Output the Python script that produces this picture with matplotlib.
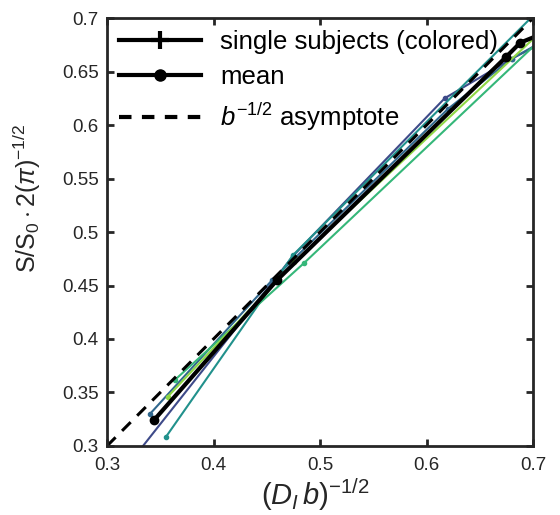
import numpy as np
import matplotlib.pyplot as plt
from matplotlib.lines import Line2D

plt.rcParams['font.family'] = ['Liberation Sans', 'DejaVu Sans']
plt.rcParams['mathtext.fontset'] = 'custom'
plt.rcParams['mathtext.rm'] = 'Liberation Sans'
plt.rcParams['mathtext.it'] = 'Liberation Sans:italic'

# single subjects: (D_I b)^-1/2 and normalised signal
subj_colors = ['#3e4a89', '#31688e', '#21918c', '#35b779', '#8fd744']
subj_x = [
    [0.31, 0.475, 0.617, 0.68, 0.73],
    [0.3404, 0.455, 0.62, 0.68, 0.73],
    [0.355, 0.4747, 0.72],
    [0.364, 0.485, 0.72],
    [0.357, 0.476, 0.72],
]
subj_y = [
    [0.27, 0.478, 0.625, 0.662, 0.688],
    [0.330, 0.455, 0.615, 0.662, 0.69],
    [0.308, 0.4785, 0.722],
    [0.362, 0.471, 0.692],
    [0.346, 0.472, 0.699],
]

mean_x = [0.344, 0.4596, 0.675, 0.688, 0.72]
mean_y = [0.324, 0.455, 0.664, 0.677, 0.69]

asym_x = [0.3, 0.7]

fig = plt.figure(figsize=(5.6, 5.15), dpi=100)
ax = fig.add_axes([0.191, 0.134, 0.761, 0.831])

for c, xs, ys in zip(subj_colors, subj_x, subj_y):
    ax.plot(xs, ys, '.-', color=c, lw=1.5, ms=6)

ax.plot(mean_x, mean_y, 'o-', color='black', lw=3, ms=6)
ax.plot(asym_x, asym_x, '--', color='black', lw=2.2, dashes=(4, 3))

ax.set_xlim(0.3, 0.7)
ax.set_ylim(0.3, 0.7)
ax.set_xticks(np.arange(0.3, 0.71, 0.1))
ax.set_xticklabels(['0.3', '0.4', '0.5', '0.6', '0.7'])
yt = np.arange(0.3, 0.701, 0.05)
ax.set_yticks(yt)
ax.set_yticklabels(['0.3', '0.35', '0.4', '0.45', '0.5', '0.55', '0.6', '0.65', '0.7'])
ax.tick_params(direction='in', top=True, right=True, length=5, width=2,
               labelsize=13.5, colors='#262626')
ax.tick_params(axis='x', pad=8)
ax.tick_params(axis='y', pad=6)
for s in ax.spines.values():
    s.set_linewidth(2)
    s.set_color('#262626')

ax.set_xlabel(r'$(D_I\,b)^{-1/2}$', fontsize=21, color='#262626')
ax.xaxis.set_label_coords(0.49, -0.07)
ax.set_ylabel(r'S/S$_0\cdot$2($\pi$)$^{-1/2}$', fontsize=18, color='#262626')
ax.yaxis.set_label_coords(-0.15, 0.58)

handles = [
    Line2D([], [], color='black', lw=3, marker='+', ms=13, mew=3),
    Line2D([], [], color='black', lw=3, marker='o', ms=8),
    Line2D([], [], color='black', lw=3, ls='--', dashes=(3, 2.5)),
]
labels = ['single subjects (colored)', 'mean', r'$b^{-1/2}$ asymptote']
ax.legend(handles, labels, loc='upper left', frameon=False, fontsize=18.5,
          handlelength=3.2, handletextpad=0.75, borderaxespad=0.05,
          labelspacing=0.45)

fig.savefig('out.png', dpi=100)
